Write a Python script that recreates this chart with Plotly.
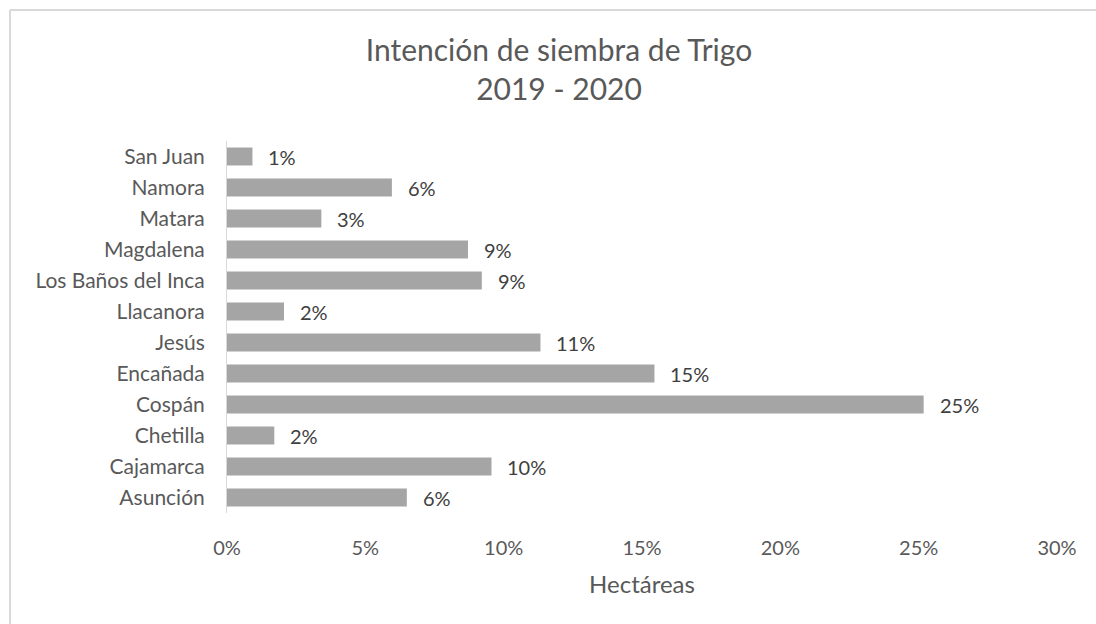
import plotly.graph_objects as go

categories = ["Asunción", "Cajamarca", "Chetilla", "Cospán", "Encañada", "Jesús",
              "Llacanora", "Los Baños del Inca", "Magdalena", "Matara", "Namora", "San Juan"]
values = [6.5, 9.56, 1.71, 25.18, 15.45, 11.33, 2.06, 9.21, 8.71, 3.41, 5.96, 0.92]
x_ticks = [0, 5, 10, 15, 20, 25, 30]
x_tick_labels = ["0%", "5%", "10%", "15%", "20%", "25%", "30%"]

W, H = 1096, 624
L, R, T, B = 227, 1057, 141, 513

FONT = "Lato"
GREY = "#595959"

fig = go.Figure()
fig.add_trace(go.Bar(
    x=values, y=categories, orientation="h",
    marker=dict(color="#a5a5a5", line=dict(width=0)),
    width=0.58, hoverinfo="skip",
))

for v, c in zip(values, categories):
    fig.add_annotation(x=v, y=c, xref="x", yref="y", text=f"{v:.0f}%",
                       showarrow=False, xanchor="left", xshift=14,
                       font=dict(family=FONT, size=20, color="#404040"))

def px(xp):
    return (xp - L) / (R - L)

def py(yp):
    return (B - yp) / (B - T)

# outer chart border (top and left edges visible)
fig.add_shape(type="line", xref="paper", yref="paper",
              x0=px(10), y0=py(10), x1=px(W), y1=py(10),
              line=dict(color="#d9d9d9", width=2), layer="below")
fig.add_shape(type="line", xref="paper", yref="paper",
              x0=px(10), y0=py(10), x1=px(10), y1=py(H),
              line=dict(color="#d9d9d9", width=2), layer="below")

fig.update_layout(
    width=W, height=H,
    margin=dict(l=L, r=W - R, t=T, b=H - B),
    paper_bgcolor="white", plot_bgcolor="white",
    showlegend=False,
    title=dict(text="Intención de siembra de Trigo<br>2019 - 2020",
               x=559 / W, xanchor="center", xref="container",
               y=1 - 61 / H, yanchor="middle", yref="container",
               font=dict(family=FONT, size=30, color=GREY)),
    xaxis=dict(range=[0, 30], tickvals=x_ticks, ticktext=x_tick_labels,
               showgrid=False, zeroline=False, showline=False,
               ticks="outside", ticklen=0, ticklabelstandoff=17,
               tickfont=dict(family=FONT, size=20, color=GREY),
               title=dict(text="Hectáreas", standoff=18,
                          font=dict(family=FONT, size=24, color=GREY))),
    yaxis=dict(showgrid=False, zeroline=False, showline=True,
               linecolor="#d9d9d9", linewidth=1,
               ticks="", ticklabelstandoff=17,
               range=[-0.5, 11.5],
               tickfont=dict(family=FONT, size=21, color=GREY)),
)

fig.write_html("out.html", config={"displayModeBar": False},
               post_script=("document.documentElement.style.overflow='hidden';"
                            "document.body.style.margin='0';"
                            "document.body.style.overflow='hidden';"))
